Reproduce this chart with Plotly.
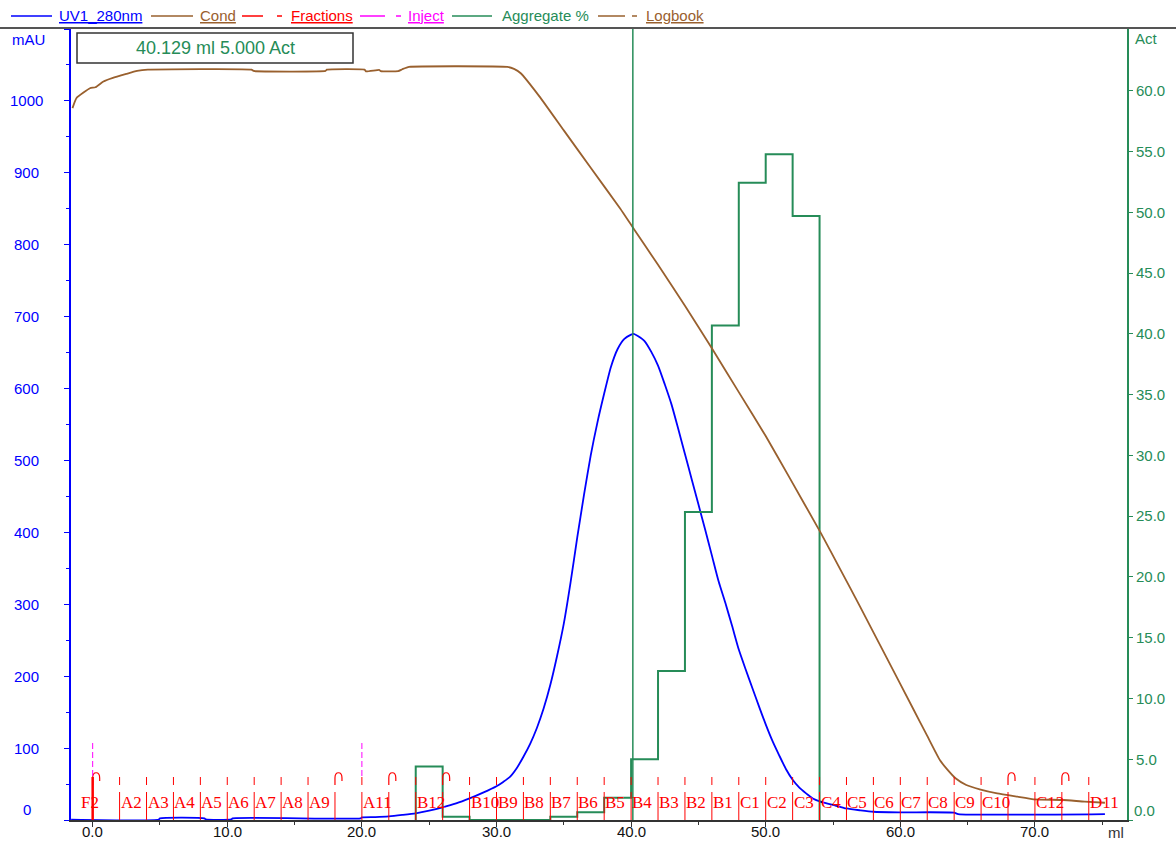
import plotly.graph_objects as go

# ---------------- data ----------------
# UV 280 nm trace (ml, mAU)
uv_ml = [-1.6, 4.9, 5.0, 8.3, 8.4, 10.3, 10.4, 19.9, 20.0, 21.0, 22.0, 23.0, 24.0, 25.0,
         26.0, 27.0, 28.0, 29.0, 30.0, 30.5, 31.0, 31.5, 32.0, 32.5, 33.0, 33.5, 34.0,
         34.5, 35.0, 35.5, 36.0, 36.5, 37.0, 37.5, 38.0, 38.5, 39.0, 39.5, 40.0, 40.2,
         40.5, 41.0, 41.5, 42.0, 42.5, 43.0, 43.5, 44.0, 44.5, 45.0, 45.5, 46.0, 46.5,
         47.0, 47.5, 48.0, 48.5, 49.0, 49.5, 50.0, 50.5, 51.0, 51.5, 52.0, 52.5, 53.0,
         53.5, 54.0, 55.0, 56.0, 57.0, 58.0, 60.0, 64.0, 64.3, 75.2]
uv_mau = [0.5, 0.5, 2.3, 2.3, 0.8, 0.8, 2.3, 2.3, 3.5, 4.0, 5.0, 7.0, 9.3, 13.0,
          17.6, 23.0, 30.0, 38.0, 47.0, 53.0, 60.0, 72.0, 88.0, 106.0, 128.0, 155.0, 188.0,
          228.0, 273.0, 330.0, 393.0, 452.0, 507.0, 553.0, 593.0, 630.0, 655.0, 669.0, 675.0, 676.0,
          673.0, 666.0, 651.0, 632.0, 606.0, 578.0, 544.0, 509.0, 474.0, 439.0, 404.0, 368.0, 332.0,
          302.0, 270.0, 237.0, 210.0, 184.0, 158.0, 133.0, 110.0, 90.0, 71.0, 56.0, 45.0, 37.0,
          30.0, 26.0, 21.0, 16.0, 13.5, 11.5, 10.7, 10.2, 8.3, 8.3]

# Conductivity trace (ml, mS/cm)
cond_ml = [-1.5, -1.2, -0.2, 0.2, 0.8, 1.5, 2.5, 3.3, 4.1, 11.8, 11.95, 17.3, 17.4, 20.2,
           20.3, 21.3, 21.4, 22.7, 23.0, 23.5, 30.8, 31.3, 31.8, 33.2, 35.0, 37.0, 39.2,
           40.13, 42.0, 44.0, 46.0, 48.0, 50.0, 51.8, 54.1, 55.5, 57.0, 59.0, 61.0, 62.0,
           62.95, 63.5, 64.1, 64.9, 65.9, 67.2, 68.7, 69.9, 72.1, 73.7, 75.2]
cond_mscm = [99.0, 100.4, 101.76, 101.9, 102.7, 103.2, 103.75, 104.17, 104.35, 104.35, 104.17, 104.17, 104.35, 104.35,
             104.1, 104.3, 104.15, 104.15, 104.4, 104.73, 104.73, 104.45, 103.85, 100.6, 95.9, 90.7, 85.0,
             82.4, 77.2, 71.5, 65.6, 59.5, 53.4, 47.5, 39.9, 35.0, 29.7, 22.5, 15.3, 11.7,
             8.3, 7.0, 5.8, 4.87, 4.27, 3.7, 3.24, 2.88, 2.78, 2.55, 2.4]

# Aggregate % per collected fraction (fraction start in ml)
agg_start_ml = [24, 26, 28, 30, 32, 34, 36, 38, 40, 42, 44, 46, 48, 50, 52]
agg_pct = [4.4, 0.27, 0.0, 0.0, 0.0, 0.27, 0.63, 1.84, 5.0, 12.26, 25.35, 40.7, 52.45, 54.8, 49.7]
agg_end_ml = 54

# Fraction marks
frac_ml = [0, 2, 4, 6, 8, 10, 12, 14, 16, 18, 20, 22, 24, 26, 28, 30, 32, 34, 36,
           38, 40, 42, 44, 46, 48, 50, 52, 54, 56, 58, 60, 62, 64, 66, 68, 70, 72, 74]
frac_labels = ["F2", "A2", "A3", "A4", "A5", "A6", "A7", "A8", "A9", "", "A11", "", "B12", "",
               "B10", "B9", "B8", "B7", "B6", "B5", "B4", "B3", "B2", "B1", "C1", "C2", "C3",
               "C4", "C5", "C6", "C7", "C8", "C9", "C10", "", "C12", "", "D11"]
waste_ml = [0, 18, 22, 26, 68, 72]
inject_ml = [0, 20]

# Cursor readout
cursor_ml = 40.129
cursor_act = 5.000

# Axis ticks
x_ticks = [0, 10, 20, 30, 40, 50, 60, 70]
left_ticks = [0, 100, 200, 300, 400, 500, 600, 700, 800, 900, 1000]
right_ticks = [0, 5, 10, 15, 20, 25, 30, 35, 40, 45, 50, 55, 60]

# ---------------- styling ----------------
BLUE = "#0000FF"
BROWN = "#99602E"
RED = "#FF0000"
MAGENTA = "#FF00FF"
GREEN = "#268C58"
DARK = "#333333"
SANS = "Liberation Sans, Arial, sans-serif"
SERIF = "Liberation Serif, Times New Roman, serif"

W, H = 1176, 843
PL, PR, PT, PB = 71, 1127, 29, 820


def px_x(p):
    return (p - PL) / (PR - PL)


def px_y(p):
    return (PB - p) / (PB - PT)


fig = go.Figure()

fig.add_trace(go.Scatter(x=cond_ml, y=cond_mscm, mode="lines", name="Cond",
                         line=dict(color=BROWN, width=1.8, shape="spline", smoothing=0.4),
                         yaxis="y3"))

# aggregate step trace built from fraction boundaries
agg_x = [agg_start_ml[0]] + agg_start_ml + [agg_end_ml]
agg_y = [0] + agg_pct + [0]
fig.add_trace(go.Scatter(x=agg_x, y=agg_y, mode="lines", name="Aggregate %",
                         line=dict(color=GREEN, width=2, shape="hv"), yaxis="y2"))

fig.add_trace(go.Scatter(x=uv_ml, y=uv_mau, mode="lines", name="UV1_280nm",
                         line=dict(color=BLUE, width=1.8, shape="spline", smoothing=0.6),
                         yaxis="y"))

shapes = []
annotations = []

# fraction ticks and labels
for f, lab in zip(frac_ml, frac_labels):
    if f == 0:
        shapes.append(dict(type="line", xref="x", yref="y", ysizemode="pixel", yanchor=0,
                           x0=f, x1=f, y0=0, y1=43, line=dict(color=RED, width=2.5)))
    else:
        shapes.append(dict(type="line", xref="x", yref="y", ysizemode="pixel", yanchor=0,
                           x0=f, x1=f, y0=0, y1=28, line=dict(color=RED, width=1)))
        if f not in waste_ml:
            shapes.append(dict(type="line", xref="x", yref="y", ysizemode="pixel", yanchor=0,
                               x0=f, x1=f, y0=35, y1=43, line=dict(color=RED, width=1)))
    if lab:
        if f == 0:
            annotations.append(dict(x=f, xref="x", y=px_y(802), yref="paper", text=lab,
                                    showarrow=False, xanchor="center", yanchor="middle", xshift=-3,
                                    font=dict(family=SERIF, size=17, color=RED)))
        else:
            annotations.append(dict(x=f, xref="x", y=px_y(802), yref="paper", text=lab,
                                    showarrow=False, xanchor="left", yanchor="middle", xshift=-1,
                                    font=dict(family=SERIF, size=17, color=RED)))

# waste arcs
for f in waste_ml:
    shapes.append(dict(type="path", xref="x", yref="y", xsizemode="pixel", xanchor=f,
                       ysizemode="pixel", yanchor=0,
                       path="M0,35 L0,42 C0,49 7,49 7,42 L7,39",
                       line=dict(color=RED, width=1.2)))

# injection marks
for f in inject_ml:
    shapes.append(dict(type="line", xref="x", yref="y", ysizemode="pixel", yanchor=0,
                       x0=f, x1=f, y0=44, y1=78, line=dict(color=MAGENTA, width=1, dash="6px,3px")))

# cursor line
shapes.append(dict(type="line", xref="x", yref="paper", x0=cursor_ml, x1=cursor_ml, y0=0, y1=1,
                   line=dict(color=GREEN, width=1.5)))

# top frame line
shapes.append(dict(type="line", xref="paper", yref="paper", x0=px_x(0), x1=px_x(W),
                   y0=px_y(28), y1=px_y(28), line=dict(color="#555555", width=2)))

# cursor readout box
shapes.append(dict(type="rect", xref="paper", yref="paper", x0=px_x(77), x1=px_x(353),
                   y0=px_y(63), y1=px_y(33), line=dict(color=DARK, width=1.5),
                   fillcolor="white"))
annotations.append(dict(x=px_x(215), y=px_y(48), xref="paper", yref="paper",
                        text=f"{cursor_ml:.3f} ml {cursor_act:.3f} Act", showarrow=False,
                        xanchor="center", yanchor="middle",
                        font=dict(family=SANS, size=18, color=GREEN)))

# legend row
legend_items = [
    # (line start, line end, dash start or None, text start, text, colour, underline)
    (11, 52, None, 57, "UV1_280nm", BLUE, True),
    (151, 193, None, 198, "Cond", BROWN, True),
    (242, 263, 277, 289, "Fractions", RED, True),
    (360, 385, 396, 406, "Inject", MAGENTA, True),
    (452, 492, None, 500, "Aggregate %", GREEN, False),
    (598, 625, 632, 644, "Logbook", BROWN, True),
]
LEG_Y = 16
for x0, x1, dx, tx, txt, col, ul in legend_items:
    shapes.append(dict(type="line", xref="paper", yref="paper", x0=px_x(x0), x1=px_x(x1),
                       y0=px_y(LEG_Y), y1=px_y(LEG_Y), line=dict(color=col, width=1.5)))
    if dx is not None:
        shapes.append(dict(type="line", xref="paper", yref="paper", x0=px_x(dx), x1=px_x(dx + 5),
                           y0=px_y(LEG_Y), y1=px_y(LEG_Y), line=dict(color=col, width=1.5)))
    annotations.append(dict(x=px_x(tx), y=px_y(LEG_Y), xref="paper", yref="paper",
                            text=f"<u>{txt}</u>" if ul else txt, showarrow=False,
                            xanchor="left", yanchor="middle",
                            font=dict(family=SANS, size=15, color=col)))

# x axis tick labels
for v in x_ticks:
    annotations.append(dict(x=v, xref="x", y=px_y(831), yref="paper", text=f"{v:.1f}",
                            showarrow=False, xanchor="center", yanchor="middle",
                            font=dict(family=SANS, size=15, color="#111111")))

# left axis tick labels (centred)
for v in left_ticks:
    annotations.append(dict(x=px_x(26.5), xref="paper", y=v, yref="y", text=str(v),
                            showarrow=False, xanchor="center", yanchor="middle",
                            yshift=11 if v == 0 else 0,
                            font=dict(family=SANS, size=15, color=BLUE)))
annotations.append(dict(x=px_x(1133), xref="paper", y=0, yref="y2", text=f"{right_ticks[0]:.1f}",
                        showarrow=False, xanchor="left", yanchor="middle", yshift=10, xshift=-1,
                        font=dict(family=SANS, size=15, color=GREEN)))

# axis unit captions
annotations.append(dict(x=px_x(10), y=px_y(39), xref="paper", yref="paper", text="mAU",
                        showarrow=False, xanchor="left", yanchor="middle",
                        font=dict(family=SANS, size=15, color=BLUE)))
annotations.append(dict(x=px_x(1133), y=px_y(38), xref="paper", yref="paper", text="Act",
                        showarrow=False, xanchor="left", yanchor="middle",
                        font=dict(family=SANS, size=15, color=GREEN)))
annotations.append(dict(x=px_x(1106), y=px_y(832), xref="paper", yref="paper", text="ml",
                        showarrow=False, xanchor="left", yanchor="middle",
                        font=dict(family=SANS, size=15, color=DARK)))

fig.update_layout(
    width=W, height=H,
    margin=dict(l=PL, r=W - PR, t=PT, b=H - PB, pad=0, autoexpand=False),
    paper_bgcolor="white", plot_bgcolor="white",
    showlegend=False,
    xaxis=dict(range=[-1.61, 76.84], showgrid=False, zeroline=False, automargin=False,
               showline=True, linecolor=DARK, linewidth=1.5,
               ticks="outside", ticklen=5, tickwidth=1, tickcolor=DARK,
               tick0=0, dtick=10, showticklabels=False,
               minor=dict(ticks="outside", ticklen=3, tick0=0, dtick=5, tickcolor=DARK)),
    yaxis=dict(range=[0, 1100], showgrid=False, zeroline=False, automargin=False,
               showline=True, linecolor=BLUE, linewidth=2,
               ticks="outside", ticklen=5, tickwidth=1, tickcolor=BLUE,
               tick0=0, dtick=100, showticklabels=False,
               minor=dict(ticks="outside", ticklen=3, tick0=0, dtick=50, tickcolor=BLUE)),
    yaxis2=dict(range=[0, 65.1], overlaying="y", side="right", anchor="x",
                showgrid=False, zeroline=False, automargin=False,
                showline=True, linecolor=GREEN, linewidth=2,
                ticks="outside", ticklen=4, tickwidth=1, tickcolor=GREEN,
                tickvals=right_ticks,
                ticktext=[""] + [f"{v:.1f}" for v in right_ticks[1:]],
                tickfont=dict(family=SANS, size=15, color=GREEN)),
    yaxis3=dict(range=[0, 110], overlaying="y", visible=False, automargin=False),
    shapes=shapes,
    annotations=annotations,
)

fig.write_html("out.html", config={"displayModeBar": False})
